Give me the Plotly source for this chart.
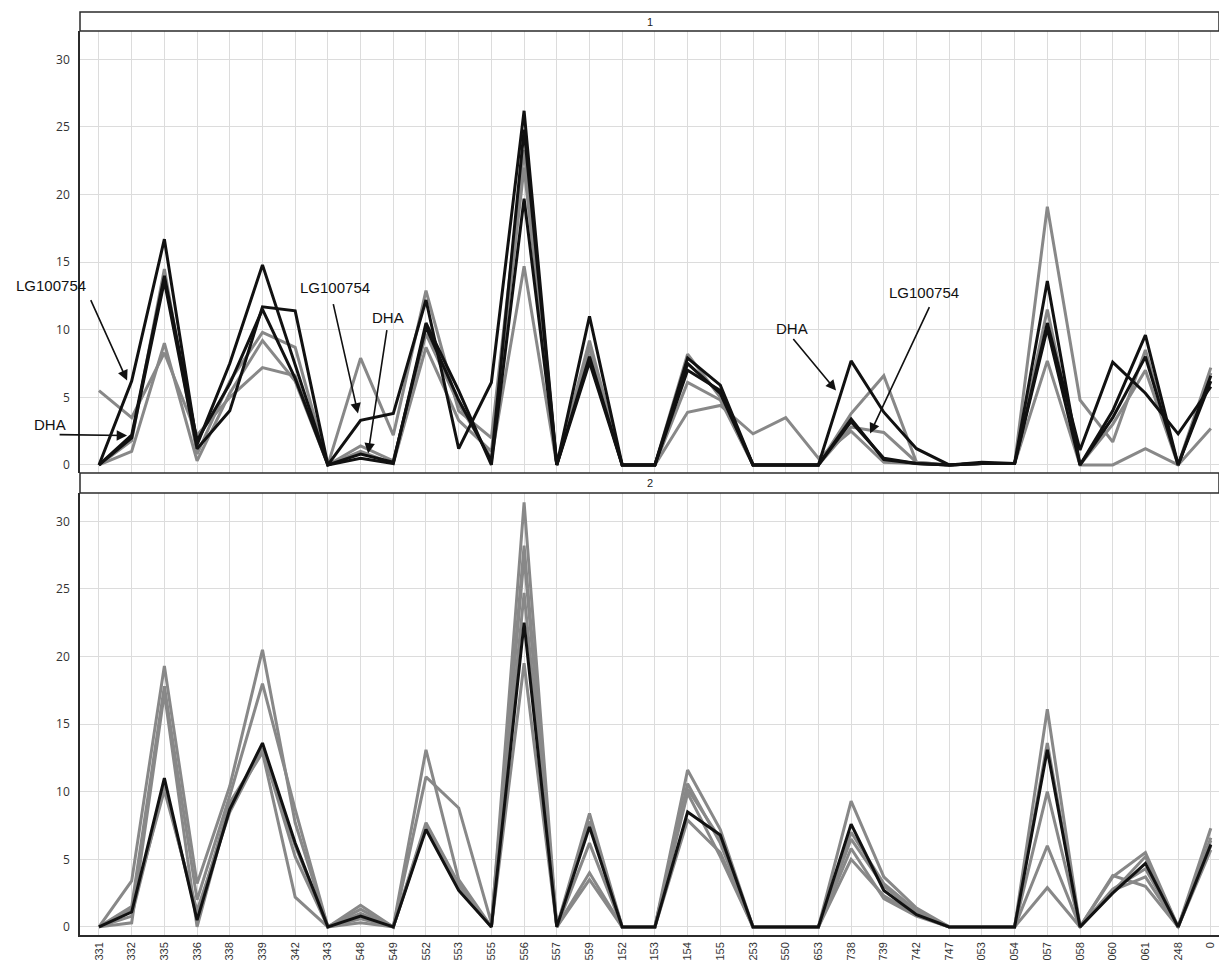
import plotly.graph_objects as go

# ---------------- data ----------------
categories = ["331", "332", "335", "336", "338", "339", "342", "343", "548", "549",
              "552", "553", "555", "556", "557", "559", "152", "153", "154", "155",
              "253", "550", "653", "738", "739", "742", "747", "053", "054", "057",
              "058", "060", "061", "248", "0"]

y_ticks = [0, 5, 10, 15, 20, 25, 30]

# panel 1 (black series)
p1_black_a = [0, 6.2, 16.7, 1.5, 7.5, 14.8, 7.4, 0, 3.3, 3.8,
              12.2, 1.2, 6.1, 26.2, 0, 11.0, 0, 0, 7.9, 5.9,
              0, 0, 0, 3.2, 0.5, 0.1, 0, 0.1, 0.1, 13.6,
              0, 4.0, 9.6, 0, 6.6]
p1_black_b = [0, 2.0, 13.6, 1.2, 4.0, 11.7, 11.4, 0, 0.5, 0.1,
              10.5, 5.5, 0, 19.7, 0, 7.6, 0, 0, 7.0, 5.5,
              0, 0, 0, 7.7, 3.9, 1.2, 0, 0.2, 0.1, 10.5,
              1.1, 7.6, 5.3, 2.3, 5.8]
p1_black_c = [0, 2.2, 14.0, 1.8, 6.0, 11.5, 6.4, 0, 0.8, 0.2,
              10.2, 4.8, 0.3, 24.8, 0, 8.0, 0, 0, 7.5, 5.3,
              0, 0, 0, 3.4, 0.4, 0.1, 0, 0.1, 0.1, 10.1,
              0, 3.5, 8.0, 0, 6.2]
# panel 1 (grey series)
p1_grey_a = [5.5, 3.5, 8.3, 2.2, 5.0, 7.2, 6.6, 0, 7.9, 2.2,
             12.9, 4.0, 2.0, 23.3, 0, 9.2, 0, 0, 8.2, 5.0,
             0, 0, 0, 3.8, 6.6, 0.2, 0, 0.1, 0.1, 19.1,
             4.8, 1.7, 8.5, 0, 7.2]
p1_grey_b = [0, 1.0, 9.0, 0.3, 5.3, 9.2, 6.2, 0, 1.4, 0.3,
             9.7, 4.5, 0.5, 14.7, 0, 8.7, 0, 0, 6.1, 4.8,
             0, 0, 0, 2.8, 2.4, 0.2, 0, 0.1, 0.1, 11.5,
             0, 3.0, 7.0, 0, 6.8]
p1_grey_c = [0, 1.8, 14.5, 0.8, 6.2, 9.8, 8.7, 0, 1.0, 0.1,
             8.7, 3.3, 1.0, 22.0, 0, 8.2, 0, 0, 3.9, 4.4,
             2.3, 3.5, 0.5, 2.5, 0.2, 0.1, 0, 0.1, 0.1, 7.7,
             0, 0, 1.2, 0, 2.7]

# panel 2 (black series)
p2_black = [0, 1.1, 11.0, 0.5, 8.7, 13.6, 6.2, 0, 0.8, 0,
            7.2, 2.7, 0, 22.5, 0, 7.4, 0, 0, 8.5, 6.8,
            0, 0, 0, 7.6, 2.7, 0.9, 0, 0, 0, 13.1,
            0, 2.5, 4.7, 0, 6.1]
# panel 2 (grey series)
p2_grey_a = [0, 3.4, 19.3, 3.2, 10.4, 20.5, 7.7, 0, 1.6, 0,
             13.1, 3.5, 0, 31.4, 0, 8.4, 0, 0, 11.6, 7.2,
             0, 0, 0, 9.3, 3.7, 1.4, 0, 0, 0, 16.1,
             0, 3.7, 5.5, 0, 7.3]
p2_grey_b = [0, 1.5, 17.8, 2.0, 9.7, 18.0, 8.7, 0, 1.3, 0,
             11.1, 8.8, 0.3, 28.2, 0, 6.2, 0, 0, 10.6, 6.2,
             0, 0, 0, 5.8, 2.1, 0.8, 0, 0, 0, 10.0,
             0, 2.7, 3.7, 0, 6.4]
p2_grey_c = [0, 0.3, 17.3, 0, 9.0, 12.9, 2.2, 0, 0.3, 0,
             7.7, 3.2, 0, 27.4, 0, 4.0, 0, 0, 9.9, 5.2,
             0, 0, 0, 5.0, 2.3, 0.9, 0, 0, 0, 6.0,
             0, 3.8, 3.0, 0, 5.7]
p2_grey_d = [0, 1.3, 10.1, 1.2, 8.5, 13.2, 5.2, 0, 1.0, 0,
             7.5, 3.0, 0, 24.7, 0, 3.5, 0, 0, 7.9, 5.5,
             0, 0, 0, 6.5, 3.0, 1.1, 0, 0, 0, 2.9,
             0, 2.6, 5.2, 0, 6.0]
p2_grey_e = [0, 0.8, 10.5, 0.8, 9.2, 13.0, 6.0, 0, 0.6, 0,
             7.4, 2.9, 0, 19.5, 0, 7.8, 0, 0, 10.2, 6.5,
             0, 0, 0, 7.0, 3.2, 1.2, 0, 0, 0, 13.6,
             0, 2.8, 4.3, 0, 6.6]

BLACK = "#111111"
GREY = "#888888"
GRID = "#dcdcdc"
AXIS = "#2b2b2b"

fig = go.Figure()

def add(vals, color, xa, ya):
    fig.add_trace(go.Scatter(x=categories, y=vals, mode="lines",
                             line=dict(color=color, width=3),
                             xaxis=xa, yaxis=ya, showlegend=False,
                             hoverinfo="skip"))

for s in (p1_grey_a, p1_grey_b, p1_grey_c):
    add(s, GREY, "x", "y")
for s in (p1_black_c, p1_black_b, p1_black_a):
    add(s, BLACK, "x", "y")
for s in (p2_grey_e, p2_grey_d, p2_grey_c, p2_grey_b, p2_grey_a):
    add(s, GREY, "x2", "y2")
add(p2_black, BLACK, "x2", "y2")

xr = [-0.58, 34.25]
yr = [-0.6, 32.1]
tickfont_y = dict(family="Open Sans, DejaVu Sans, sans-serif", size=12, color="#333333")
tickfont_x = dict(family="Liberation Sans, Arial, sans-serif", size=11, color="#333333")

common_x = dict(type="category", categoryorder="array", categoryarray=categories,
                range=xr, showgrid=True, gridcolor=GRID, gridwidth=1,
                zeroline=False, ticks="", automargin=False)
common_y = dict(range=yr, tickvals=y_ticks, showgrid=True, gridcolor=GRID, gridwidth=1,
                zeroline=False, showline=True, linecolor=AXIS, linewidth=1.5,
                ticks="", tickfont=tickfont_y, automargin=False, ticklabelstandoff=6)

P1 = [0.5005, 0.9794]
P2 = [0.0, 0.4789]

fig.update_layout(
    width=1219, height=962,
    margin=dict(l=80, r=0, t=12, b=27),
    paper_bgcolor="white", plot_bgcolor="white",
    xaxis=dict(domain=[0, 1], anchor="y", showticklabels=False, showline=False, **common_x),
    yaxis=dict(domain=P1, anchor="x", **common_y),
    xaxis2=dict(domain=[0, 1], anchor="y2", showticklabels=True, tickangle=-90,
                tickfont=tickfont_x, showline=True, linecolor=AXIS, linewidth=1.5,
                ticklabelstandoff=1, **common_x),
    yaxis2=dict(domain=P2, anchor="x2", **common_y),
)

# strip headers
strip_shapes = []
for y0, y1 in ((P1[1], 1.0), (P2[1], P1[0])):
    strip_shapes.append(dict(type="rect", xref="paper", yref="paper",
                             x0=0, x1=1, y0=y0, y1=y1,
                             line=dict(color=AXIS, width=1.5), fillcolor="white",
                             layer="above"))
fig.update_layout(shapes=strip_shapes)

annots = []
for label, (y0, y1) in (("1", (P1[1], 1.0)), ("2", (P2[1], P1[0]))):
    annots.append(dict(text=label, xref="paper", yref="paper", x=0.5, y=(y0 + y1) / 2,
                       showarrow=False, xanchor="center", yanchor="middle",
                       font=dict(family="Liberation Sans, Arial, sans-serif", size=11, color="#222")))

# callout labels (paper coords) and arrows (pointing at top-panel data)
labels = [("LG100754", -0.0255, 0.7042), ("DHA", -0.0263, 0.5536),
          ("LG100754", 0.2239, 0.7010), ("DHA", 0.2704, 0.6685),
          ("DHA", 0.6251, 0.6576), ("LG100754", 0.7410, 0.6956)]
for txt, px, py in labels:
    annots.append(dict(text=txt, xref="paper", yref="paper", x=px, y=py,
                       showarrow=False, xanchor="center", yanchor="middle",
                       font=dict(family="Liberation Sans, Arial, sans-serif", size=15, color="#111")))

arrows = [(0.86, 6.24, -37, -82), (0.86, 2.17, -69, -1),
          (7.92, 3.8, -25, -111), (8.23, 0.84, 19, -125),
          (22.54, 5.5, -44, -53), (23.58, 2.32, 60, -128)]
for hx, hy, ax, ay in arrows:
    annots.append(dict(text="", xref="x", yref="y", x=hx, y=hy, ax=ax, ay=ay,
                       showarrow=True, arrowhead=2, arrowsize=1.3, arrowwidth=1.6,
                       arrowcolor="#111"))

fig.update_layout(annotations=annots)

fig.write_html("out.html", config={"displayModeBar": False},
               post_script="document.body.style.margin='0';document.body.style.padding='0';"
                           "document.documentElement.style.overflow='hidden';")
